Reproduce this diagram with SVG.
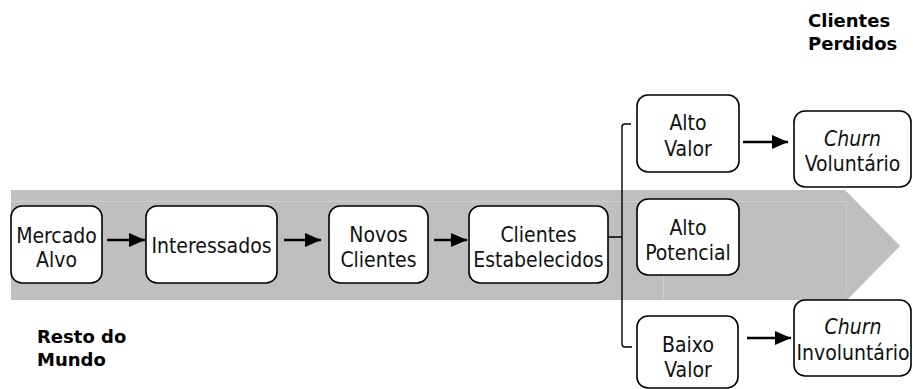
<svg xmlns="http://www.w3.org/2000/svg" width="913" height="389" viewBox="0 0 913 389">
  <defs>
    <marker id="head" viewBox="0 0 16 14" refX="16" refY="7" markerWidth="16" markerHeight="14" markerUnits="userSpaceOnUse" orient="auto">
      <path d="M0,0 L16,7 L0,14 Z" fill="#000"/>
    </marker>
    <style>
      .box { fill: #fff; stroke: #000; stroke-width: 1.6; }
      .lbl { font-family: "DejaVu Sans Condensed", "DejaVu Sans", sans-serif; font-stretch: condensed; font-size: 21px; fill: #111; text-anchor: middle; }
      .it { font-style: italic; }
      .head { font-family: "DejaVu Sans", Verdana, sans-serif; font-weight: bold; font-size: 18px; fill: #000; }
      .conn { fill: none; stroke: #000; stroke-width: 2.5; }
      .brk { fill: none; stroke: #000; stroke-width: 1.4; }
      .seam { fill: none; stroke: #cfcdcd; stroke-width: 1; }
    </style>
  </defs>

  <!-- big process arrow in the background -->
  <g id="band">
    <path d="M11,190 L845,190 L900,246 L847,300 L11,300 Z" fill="#c0bebe"/>
    <path class="seam" d="M11,201.5 L846,201.5 M663.5,201.5 L663.5,300 M846.5,201.5 L846.5,291"/>
  </g>

  <!-- section titles -->
  <g id="title-lost">
    <text class="head" x="808" y="27">Clientes</text>
    <text class="head" x="808" y="50">Perdidos</text>
  </g>
  <g id="title-rest">
    <text class="head" x="37" y="343">Resto do</text>
    <text class="head" x="37" y="366">Mundo</text>
  </g>

  <!-- connectors -->
  <g id="connectors">
    <line class="conn" x1="107" y1="240" x2="145" y2="240" marker-end="url(#head)"/>
    <line class="conn" x1="284" y1="240" x2="321" y2="240" marker-end="url(#head)"/>
    <line class="conn" x1="434" y1="240" x2="467" y2="240" marker-end="url(#head)"/>
    <line class="conn" x1="743" y1="142" x2="788" y2="142" marker-end="url(#head)"/>
    <line class="conn" x1="747" y1="338" x2="791" y2="338" marker-end="url(#head)"/>
    <!-- split bracket from established clients to the value segments -->
    <path class="brk" d="M608,237 L622,237 M631,124 L625,124 Q622,124 622,127 L622,344 Q622,347 625,347 L632,347"/>
  </g>

  <g id="mercado-alvo">
    <rect class="box" x="11" y="206" width="91" height="77" rx="11"/>
    <text class="lbl" x="56.5" y="243">Mercado</text>
    <text class="lbl" x="56.5" y="267">Alvo</text>
  </g>
  <g id="interessados">
    <rect class="box" x="146" y="206" width="131" height="77" rx="11"/>
    <text class="lbl" x="211.5" y="253">Interessados</text>
  </g>
  <g id="novos-clientes">
    <rect class="box" x="329" y="206" width="99" height="77" rx="11"/>
    <text class="lbl" x="378.5" y="242">Novos</text>
    <text class="lbl" x="378.5" y="267">Clientes</text>
  </g>
  <g id="clientes-estabelecidos">
    <rect class="box" x="469" y="206" width="139" height="77" rx="11"/>
    <text class="lbl" x="538.5" y="242">Clientes</text>
    <text class="lbl" x="538.5" y="267">Estabelecidos</text>
  </g>
  <g id="alto-valor">
    <rect class="box" x="637" y="95" width="102" height="77" rx="11"/>
    <text class="lbl" x="688" y="130">Alto</text>
    <text class="lbl" x="688" y="156">Valor</text>
  </g>
  <g id="alto-potencial">
    <rect class="box" x="637" y="199" width="102" height="76" rx="11"/>
    <text class="lbl" x="688" y="235">Alto</text>
    <text class="lbl" x="688" y="260">Potencial</text>
  </g>
  <g id="baixo-valor">
    <rect class="box" x="637" y="316" width="101" height="72" rx="11"/>
    <text class="lbl" x="688" y="352">Baixo</text>
    <text class="lbl" x="688" y="377">Valor</text>
  </g>
  <g id="churn-voluntario">
    <rect class="box" x="794" y="111" width="117" height="76" rx="11"/>
    <text class="lbl it" x="852.5" y="146">Churn</text>
    <text class="lbl" x="852.5" y="171">Voluntário</text>
  </g>
  <g id="churn-involuntario">
    <rect class="box" x="794" y="300" width="117" height="76" rx="11"/>
    <text class="lbl it" x="853" y="334">Churn</text>
    <text class="lbl" x="853" y="360">Involuntário</text>
  </g>
</svg>
